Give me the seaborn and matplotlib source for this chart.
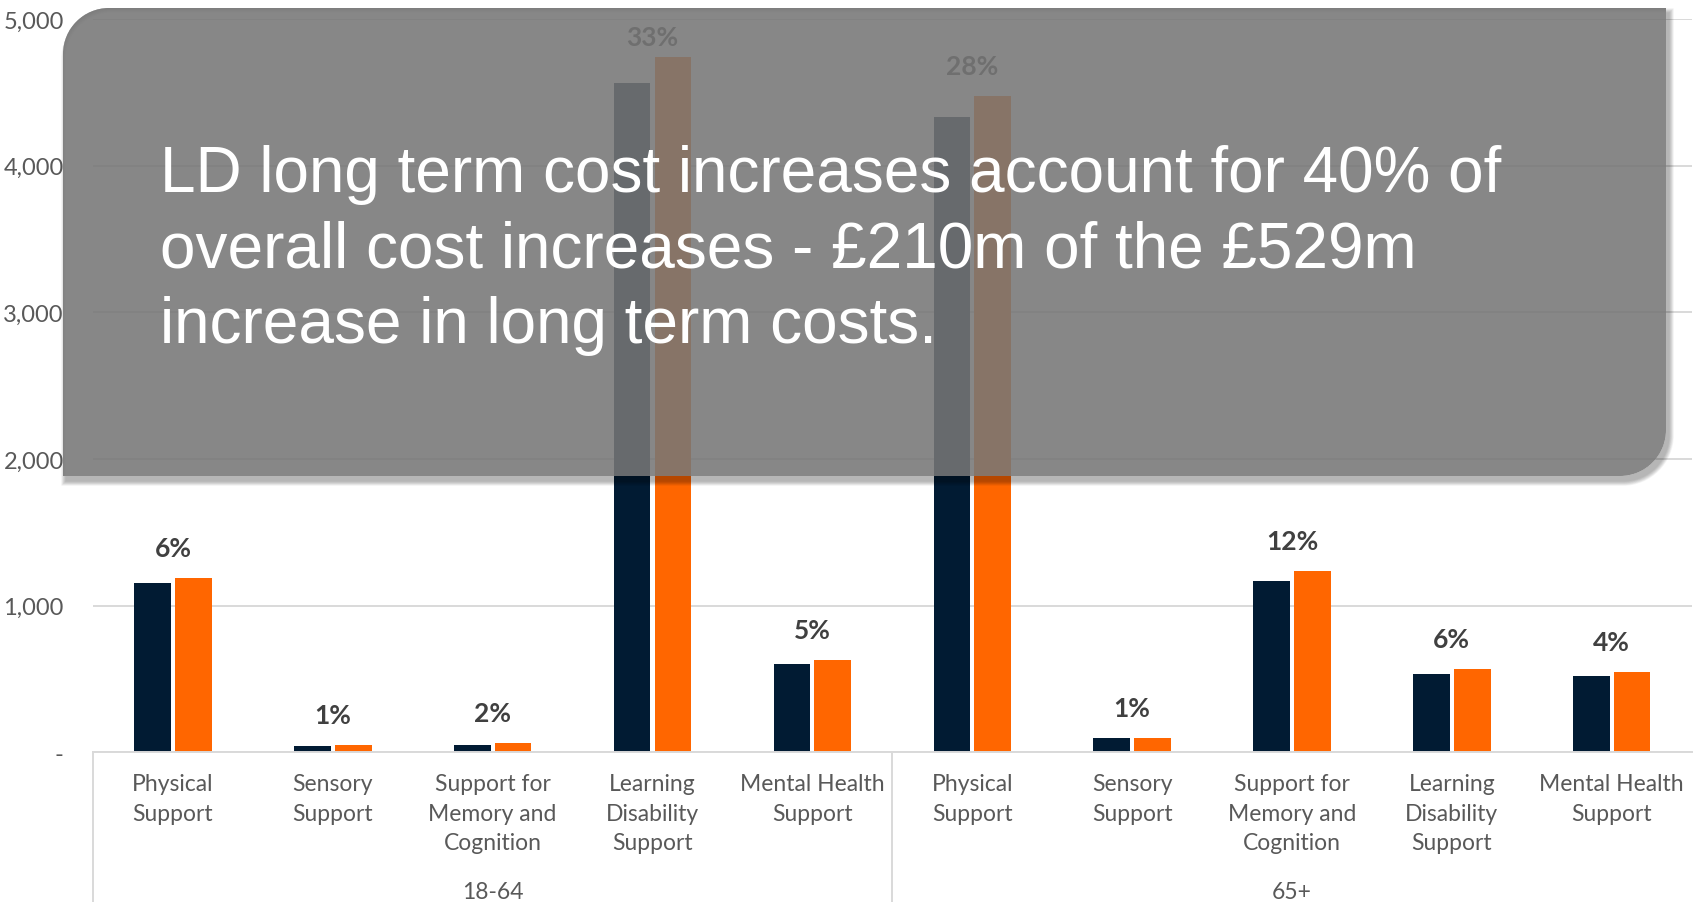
import numpy as np
import pandas as pd
import matplotlib
matplotlib.use("Agg")
import matplotlib.pyplot as plt
from matplotlib.path import Path
from matplotlib.patches import PathPatch
from matplotlib.transforms import IdentityTransform
import seaborn as sns

# ---- data -------------------------------------------------------------
age_groups = ["18-64", "65+"]
support_types = [
    "Physical\nSupport",
    "Sensory\nSupport",
    "Support for\nMemory and\nCognition",
    "Learning\nDisability\nSupport",
    "Mental Health\nSupport",
]
series_names = ["Earlier year", "Later year"]
cost_earlier = [1155, 45, 48, 4563, 600, 4329, 96, 1166, 536, 522]
cost_later = [1189, 48, 62, 4743, 630, 4477, 100, 1234, 568, 545]
share_of_increase = ["6%", "1%", "2%", "33%", "5%", "28%", "1%", "12%", "6%", "4%"]
y_ticks = [0, 1000, 2000, 3000, 4000, 5000]
y_tick_labels = ["-", "1,000", "2,000", "3,000", "4,000", "5,000"]
headline = [
    "LD long term cost increases account for 40% of",
    "overall cost increases - \u00a3210m of the \u00a3529m",
    "increase in long term costs.",
]

NAVY = "#011b33"
ORANGE = "#ff6600"
GRID = "#d9d9d9"
TICK = "#595959"
LABEL = "#404040"

# ---- long-form table --------------------------------------------------
slots = [f"{g}|{s}" for g in age_groups for s in support_types]
df = pd.DataFrame({
    "slot": slots * 2,
    "series": [series_names[0]] * len(slots) + [series_names[1]] * len(slots),
    "cost": cost_earlier + cost_later,
})

sns.set_theme(style="white")
plt.rcParams["font.family"] = ["Lato", "DejaVu Sans"]

W, H = 1696, 903
fig = plt.figure(figsize=(W / 100, H / 100), dpi=100)
x_left, x_right = 93, 1691.6
y_zero, y_top = 753.4, 20
ax = fig.add_axes([x_left / W, (H - y_zero) / H,
                   (x_right - x_left) / W, (y_zero - y_top) / H])

sns.barplot(data=df, x="slot", y="cost", hue="series", order=slots,
            hue_order=series_names, palette=[NAVY, ORANGE], saturation=1,
            width=0.51, gap=0.1, linewidth=0, ax=ax, legend=False)

ax.set_xlim(-0.5, len(slots) - 0.5)
ax.set_ylim(0, 5000)
ax.set_xlabel("")
ax.set_ylabel("")
ax.set_yticks(y_ticks)
ax.set_yticklabels(y_tick_labels, color=TICK, fontsize=17)
ax.set_xticks(range(len(slots)))
ax.set_xticklabels(support_types * len(age_groups), color=TICK, fontsize=16.5,
                   linespacing=1.5)
ax.tick_params(axis="y", length=0, pad=21)
ax.tick_params(axis="x", length=0, pad=15)
ax.yaxis.grid(True, color=GRID, linewidth=1.4)
ax.set_axisbelow(True)
for side in ["top", "right", "left"]:
    ax.spines[side].set_visible(False)
ax.spines["bottom"].set_color(GRID)
ax.spines["bottom"].set_linewidth(1.4)

# share-of-increase labels above each pair (kept inside the plot area)
units_per_px = 5000 / (y_zero - y_top)
for i, lab in enumerate(share_of_increase):
    top = max(cost_earlier[i], cost_later[i])
    y_lab = min(top + 22 * units_per_px, 5000 - 26 * units_per_px)
    ax.text(i, y_lab, lab, ha="center", va="baseline", fontsize=19,
            fontweight="bold", color=LABEL)

# age-group separators and captions under the category labels
xt = ax.get_xaxis_transform()
n = len(support_types)
bottom_frac = -(H - y_zero) / (y_zero - y_top)
for b in [-0.5, n - 0.5]:
    ax.plot([b, b], [0, bottom_frac], transform=xt, color=GRID,
            linewidth=1.4, clip_on=False)
for gi, g in enumerate(age_groups):
    ax.text(gi * n + (n - 1) / 2, -(893 - y_zero) / (y_zero - y_top), g,
            transform=xt, ha="center", va="center", fontsize=16.5, color=TICK)


# ---- headline callout -------------------------------------------------
def callout_path(x0, y0, x1, y1, r, reverse=False):
    """Rectangle with rounded top-left and bottom-right corners."""
    k = 0.5523 * r
    if not reverse:
        verts = [
            (x0, y0), (x0, y1 - r),
            (x0, y1 - r + k), (x0 + r - k, y1), (x0 + r, y1),
            (x1, y1), (x1, y0 + r),
            (x1, y0 + r - k), (x1 - r + k, y0), (x1 - r, y0),
            (x0, y0), (x0, y0),
        ]
    else:
        verts = [
            (x0, y0), (x1 - r, y0),
            (x1 - r + k, y0), (x1, y0 + r - k), (x1, y0 + r),
            (x1, y1), (x0 + r, y1),
            (x0 + r - k, y1), (x0, y1 - r + k), (x0, y1 - r),
            (x0, y0), (x0, y0),
        ]
    codes = [Path.MOVETO, Path.LINETO,
             Path.CURVE4, Path.CURVE4, Path.CURVE4,
             Path.LINETO, Path.LINETO,
             Path.CURVE4, Path.CURVE4, Path.CURVE4,
             Path.LINETO, Path.CLOSEPOLY]
    return Path(verts, codes)


bx0, bx1 = 63, 1666
by0, by1 = H - 477, H - 9
radius = 46

# soft drop shadow, with the callout area cut out so it only shows outside
hole = callout_path(bx0, by0, bx1, by1, radius, reverse=True)
for s in range(1, 9):
    outer = callout_path(bx0 + 3 - s * 0.6, by0 - 5 - s * 0.6,
                         bx1 + 3 + s * 0.6, by1 - 5 + s * 0.6, radius + s * 0.6)
    ring = Path.make_compound_path(outer, hole)
    fig.add_artist(PathPatch(ring, transform=IdentityTransform(),
                             facecolor="black", edgecolor="none",
                             alpha=0.04, zorder=9))

box = callout_path(bx0, by0, bx1, by1, radius)
fig.add_artist(PathPatch(box, transform=IdentityTransform(),
                         facecolor="#767676", edgecolor="none",
                         alpha=0.88, zorder=10))

for li, line in enumerate(headline):
    fig.text(148 * W / 1568, H - (192.5 + li * 75.5), line,
             transform=IdentityTransform(), ha="left", va="baseline",
             fontsize=46, color="white",
             family=["Liberation Sans", "DejaVu Sans"], zorder=11)

fig.savefig("out.png", dpi=100)
